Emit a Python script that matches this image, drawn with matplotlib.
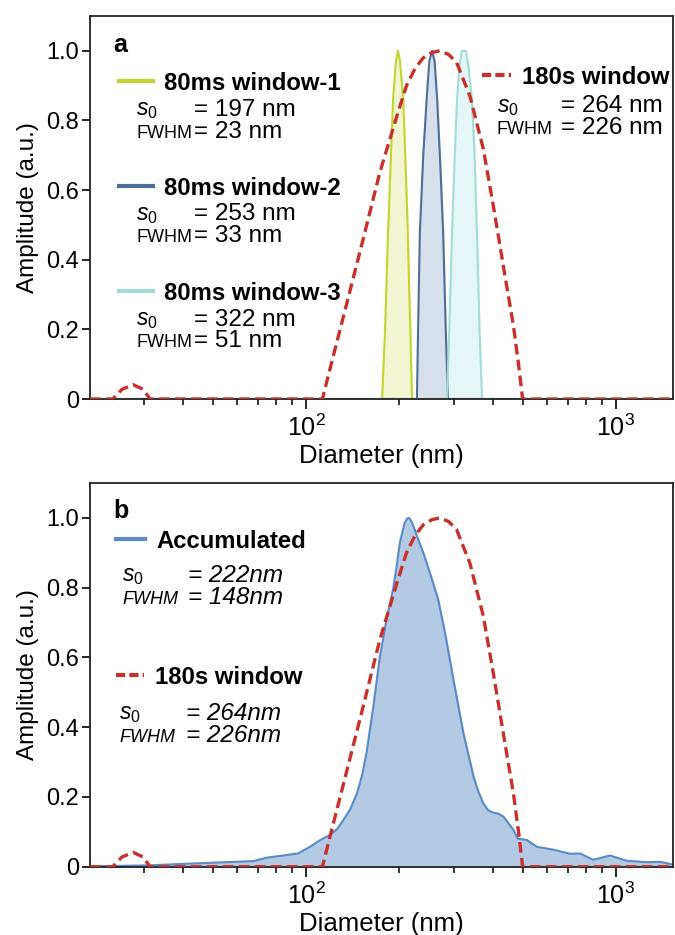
import matplotlib
matplotlib.use("Agg")
import matplotlib.pyplot as plt
from matplotlib.lines import Line2D

plt.rcParams['font.family'] = ['Liberation Sans', 'DejaVu Sans']
plt.rcParams['mathtext.fontset'] = 'custom'
plt.rcParams['mathtext.rm'] = 'Liberation Sans'
plt.rcParams['mathtext.it'] = 'Liberation Sans:italic'
plt.rcParams['mathtext.bf'] = 'Liberation Sans:bold'

# ---- data ----
# 180 s window fit (same curve in both panels)
d_180 = [20.1, 23.8, 25.5, 27.7, 29.8, 31.4, 113, 119.5, 135, 153, 173, 196, 211,
         225, 239, 255, 270, 288, 306, 338, 373, 402, 433, 467, 485, 500, 1528]
a_180 = [0, 0, 0.028, 0.041, 0.028, 0, 0, 0.086, 0.27, 0.46, 0.65, 0.81, 0.90,
         0.95, 0.98, 0.995, 1.0, 0.99, 0.967, 0.87, 0.72, 0.556, 0.383, 0.21, 0.10, 0, 0]

# 80 ms windows
d_w1 = [20.1, 176, 180, 184, 188, 191, 195, 198, 201, 206, 210, 213, 217, 220, 1528]
a_w1 = [0, 0, 0.2, 0.48, 0.7, 0.86, 0.97, 1.0, 0.97, 0.86, 0.65, 0.48, 0.2, 0, 0]

d_w2 = [20.1, 228, 230, 233, 239, 245, 250, 255, 260, 265, 271, 277, 282, 287, 1528]
a_w2 = [0, 0, 0.2, 0.48, 0.7, 0.86, 0.97, 1.0, 0.97, 0.86, 0.68, 0.48, 0.22, 0, 0]

d_w3 = [20.1, 285, 290, 296, 302, 307, 313, 318, 323, 328, 335, 343, 350, 356, 363, 370, 1528]
a_w3 = [0, 0, 0.2, 0.48, 0.7, 0.86, 0.96, 1.0, 1.0, 1.0, 0.95, 0.86, 0.7, 0.48, 0.2, 0, 0]

# accumulated distribution
d_acc = [20.1, 23.8, 31.4, 40, 51.6, 67.5, 74.8, 84.3, 94.2, 103, 111, 119.5, 126, 132,
         139, 146, 152, 157, 165, 173, 182, 191, 196, 201, 208, 212, 215, 219, 225,
         232, 239, 251, 267, 281, 299, 322, 347, 360, 373, 387, 402, 418, 433, 450,
         467, 483, 515, 556, 627, 711, 766, 844, 900, 957, 1084, 1259, 1387, 1528]
a_acc = [0.002, 0.002, 0.004, 0.008, 0.012, 0.016, 0.026, 0.032, 0.038, 0.057, 0.076,
         0.091, 0.108, 0.134, 0.165, 0.21, 0.265, 0.33, 0.46, 0.60, 0.71, 0.795, 0.86,
         0.93, 0.985, 0.998, 1.0, 0.99, 0.963, 0.93, 0.90, 0.843, 0.766, 0.67, 0.536,
         0.383, 0.259, 0.215, 0.182, 0.162, 0.155, 0.152, 0.144, 0.125, 0.105, 0.08,
         0.077, 0.057, 0.049, 0.037, 0.038, 0.02, 0.026, 0.032, 0.017, 0.013, 0.014,
         0.006]

yticks = [0, 0.2, 0.4, 0.6, 0.8, 1.0]
ytick_labels = ['0', '0.2', '0.4', '0.6', '0.8', '1.0']

c_w1, f_w1 = '#c3d42e', '#f1f5d2'
c_w2, f_w2 = '#4d6f97', '#d6e0ed'
c_w3, f_w3 = '#a3ddd5', '#e4f6f6'
c_red = '#c8302c'
c_acc, f_acc = '#5b8bc7', '#b4c9e4'

W, H = 675, 935
fig = plt.figure(figsize=(W / 100, H / 100), dpi=100)
ax_a = fig.add_axes([90 / W, 1 - 399 / H, 583 / W, 383 / H])
ax_b = fig.add_axes([90 / W, 1 - 866.7 / H, 583 / W, 383.7 / H])


def px(x, y):
    return x / W, 1 - y / H


def style(ax):
    ax.set_xscale('log')
    ax.set_xlim(20.1, 1528)
    ax.set_ylim(0, 1.10)
    ax.set_yticks(yticks)
    ax.set_yticklabels(ytick_labels)
    ax.tick_params(axis='y', which='major', direction='out', length=6, width=1.2,
                   labelsize=17, pad=2)
    ax.tick_params(axis='x', which='major', direction='out', length=7.5, width=1.2,
                   labelsize=18, pad=4)
    ax.tick_params(axis='x', which='minor', direction='out', length=4.5, width=1.1)
    for s in ax.spines.values():
        s.set_linewidth(1.3)
        s.set_color('#222222')
    ax.set_xlabel('Diameter (nm)', fontsize=18.5, labelpad=2)
    ax.set_ylabel('Amplitude (a.u.)', fontsize=17.5, labelpad=5)


# ---- panel a ----
ax = ax_a
for d, a, c, f in [(d_w1, a_w1, c_w1, f_w1), (d_w2, a_w2, c_w2, f_w2), (d_w3, a_w3, c_w3, f_w3)]:
    ax.fill_between(d, a, color=f, zorder=1)
    ax.plot(d, a, color=c, lw=1.5, zorder=2)
ax.plot(d_180, a_180, color=c_red, lw=2.4, ls=(0, (3.2, 1.6)), zorder=3)
style(ax)

# ---- panel b ----
ax = ax_b
ax.fill_between(d_acc, a_acc, color=f_acc, zorder=1)
ax.plot(d_acc, a_acc, color=c_acc, lw=1.5, zorder=2)
ax.plot(d_180, a_180, color=c_red, lw=2.4, ls=(0, (3.2, 1.6)), zorder=3)
style(ax)

# ---- annotations ----
fig.text(*px(113, 52), 'a', fontsize=18, fontweight='bold')
fig.text(*px(113, 518), 'b', fontsize=18, fontweight='bold')

s0 = r'$\mathit{s}_{\mathit{0}}$'


def sample(x0, x1, y, color, dashed=False):
    ls = (0, (2.2, 1.0)) if dashed else '-'
    fig.add_artist(Line2D([x0 / W, x1 / W], [1 - y / H, 1 - y / H],
                          transform=fig.transFigure, color=color, lw=3, ls=ls))


def entry(xl, xt, y_title, title, color, s0_val, fwhm_val, xs, xeq, dy1, dy2,
          dashed=False, italic=False):
    sample(xl, xt - 11, y_title - 2, color, dashed)
    fig.text(*px(xt, y_title + 7), title, fontsize=17.2, fontweight='bold')
    st = 'italic' if italic else 'normal'
    fig.text(*px(xs, y_title + dy1 + 6.5), s0, fontsize=16.5)
    fig.text(*px(xeq, y_title + dy1 + 6.5), '= ' + s0_val, fontsize=17.5, style=st)
    fig.text(*px(xs, y_title + dy2 + 6.5), 'FWHM', fontsize=13, style=st)
    fig.text(*px(xeq, y_title + dy2 + 6.5), '= ' + fwhm_val, fontsize=17.5, style=st)


entry(119, 164, 83, '80ms window-1', c_w1, '197 nm', '23 nm', 136, 194, 26, 48)
entry(119, 164, 188, '80ms window-2', c_w2, '253 nm', '33 nm', 136, 194, 26, 48)
entry(119, 164, 293, '80ms window-3', c_w3, '322 nm', '51 nm', 136, 194, 26, 48)
entry(482, 522, 77, '180s window', c_red, '264 nm', '226 nm', 497, 561, 29, 51, dashed=True)

entry(116, 156, 541, 'Accumulated', c_acc, '222nm', '148nm', 122, 188, 34, 57, italic=True)
entry(116, 155, 677, '180s window', c_red, '264nm', '226nm', 119, 186, 36, 59,
      dashed=True, italic=True)

fig.savefig('out.png', dpi=100)
